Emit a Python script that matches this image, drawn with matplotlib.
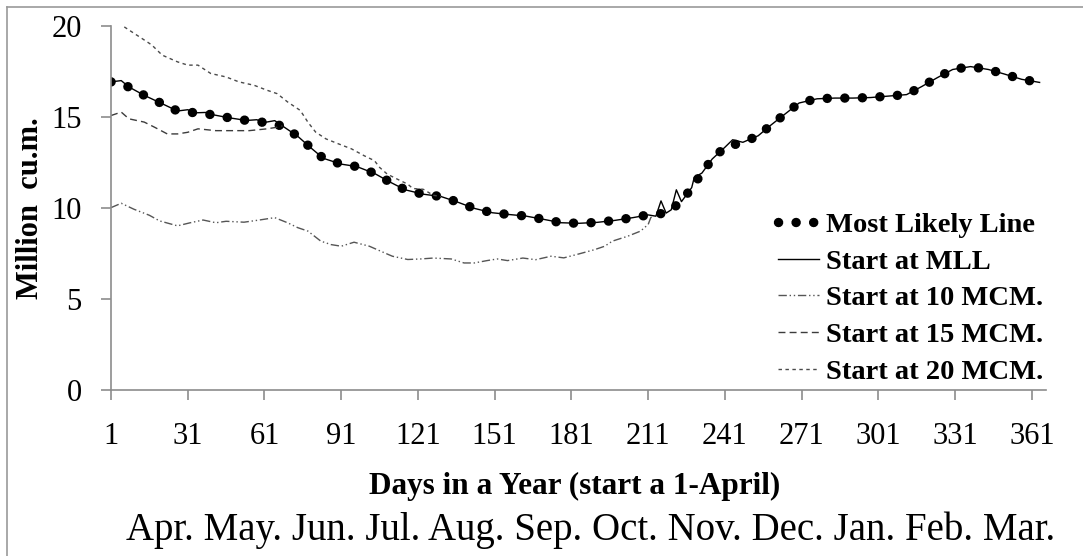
import matplotlib
matplotlib.use("Agg")
import matplotlib.pyplot as plt
from matplotlib.lines import Line2D

plt.rcParams['font.family'] = ['Liberation Serif', 'DejaVu Serif']

# Most likely storage line (daily simulation, read at weekly-ish steps)
mll_day = [1, 8, 14, 21, 27, 34, 41, 47, 54, 61, 68, 74, 79, 84, 91, 97, 104, 110,
           116, 123, 130, 136, 143, 150, 156, 163, 170, 177, 184, 191, 198, 205,
           211, 218, 224, 228, 232, 236, 241, 248, 254, 259, 265, 270, 277, 284,
           291, 298, 305, 312, 318, 324, 330, 337, 344, 350, 357, 364]
mll_val = [16.93, 16.65, 16.19, 15.73, 15.33, 15.23, 15.12, 14.96, 14.81, 14.70,
           14.51, 13.94, 13.32, 12.73, 12.41, 12.28, 11.90, 11.43, 11.00, 10.76,
           10.63, 10.35, 9.98, 9.74, 9.65, 9.56, 9.38, 9.19, 9.16, 9.21, 9.32,
           9.47, 9.62, 9.72, 10.35, 11.12, 11.92, 12.69, 13.34, 13.61, 13.97,
           14.56, 15.22, 15.77, 16.00, 16.04, 16.04, 16.07, 16.15, 16.23, 16.68,
           17.16, 17.61, 17.77, 17.61, 17.37, 17.07, 16.90]

# run started at the MLL level
mll_run_day = [1, 5, 8, 14, 21, 27, 31, 34, 38, 41, 47, 54, 58, 61, 65, 68, 74, 79,
               84, 91, 97, 104, 110, 116, 123, 130, 136, 143, 150, 156, 163, 170,
               177, 184, 191, 198, 205, 211, 214, 216, 218, 220, 222, 224, 228,
               229, 232, 236, 241, 244, 248, 254, 259, 265, 270, 277, 284, 291,
               298, 305, 312, 318, 324, 330, 337, 344, 350, 357, 364]
mll_run_val = [16.93, 17.00, 16.65, 16.19, 15.73, 15.33, 15.40, 15.23, 15.25,
               15.12, 14.96, 14.81, 14.85, 14.70, 14.80, 14.51, 13.94, 13.32,
               12.73, 12.41, 12.28, 11.90, 11.43, 11.00, 10.76, 10.63, 10.35,
               9.98, 9.74, 9.65, 9.56, 9.38, 9.19, 9.16, 9.21, 9.32, 9.47, 9.62,
               9.55, 10.39, 9.72, 9.90, 11.00, 10.35, 11.12, 11.68, 11.92, 12.69,
               13.34, 13.75, 13.61, 13.97, 14.56, 15.22, 15.77, 16.00, 16.04,
               16.04, 16.07, 16.15, 16.23, 16.68, 17.16, 17.61, 17.77, 17.61,
               17.37, 17.07, 16.90]

# runs started at 10, 15 and 20 MCM (drawn until they join the MLL)
s10_day = [1, 5, 10, 16, 20, 27, 32, 37, 42, 46, 53, 59, 65, 70, 74, 78, 83, 87,
           91, 96, 102, 108, 111, 117, 122, 127, 134, 139, 143, 148, 152, 156,
           162, 167, 173, 178, 184, 190, 194, 197, 203, 208, 211, 212, 213]
s10_val = [10.02, 10.26, 9.93, 9.60, 9.29, 9.02, 9.19, 9.34, 9.19, 9.27, 9.22,
           9.34, 9.47, 9.19, 8.92, 8.73, 8.18, 7.99, 7.90, 8.12, 7.90, 7.53,
           7.35, 7.17, 7.20, 7.25, 7.20, 6.98, 6.98, 7.11, 7.20, 7.11, 7.25,
           7.16, 7.35, 7.26, 7.48, 7.71, 7.90, 8.18, 8.45, 8.73, 9.10, 9.47, 9.59]

s15_day = [1, 5, 8, 14, 18, 23, 27, 31, 35, 42, 49, 55, 62, 66, 68]
s15_val = [15.08, 15.27, 14.90, 14.72, 14.44, 14.07, 14.07, 14.16, 14.35, 14.25,
           14.25, 14.25, 14.35, 14.44, 14.51]

s20_day = [1, 5, 9, 15, 17, 21, 27, 31, 35, 40, 46, 51, 57, 62, 66, 70, 75, 78,
           81, 85, 90, 95, 100, 104, 106, 109, 113, 117, 119, 123, 127, 130]
s20_val = [20.06, 20.06, 19.69, 19.14, 18.95, 18.40, 18.03, 17.85, 17.85, 17.39,
           17.20, 16.93, 16.74, 16.47, 16.28, 15.83, 15.36, 14.71, 14.17, 13.80,
           13.52, 13.25, 12.87, 12.60, 12.23, 11.86, 11.58, 11.31, 11.07, 11.03,
           10.70, 10.63]

day_ticks = list(range(1, 362, 30))
months = ["Apr.", "May.", "Jun.", "Jul.", "Aug.", "Sep.", "Oct.", "Nov.", "Dec.",
          "Jan.", "Feb.", "Mar."]

fig = plt.figure(figsize=(10.83, 5.56), dpi=100)
ax = fig.add_axes([111/1083, 1 - 390/556, (1046 - 111)/1083, (390 - 26)/556])

# round-dot line: zero-length dashes with round caps
ax.plot(mll_day, mll_val, color='black', lw=6.8, linestyle=(0, (0.01, 1.85)),
        dash_capstyle='round', solid_capstyle='round', label='Most Likely Line')
ax.plot(mll_run_day, mll_run_val, color='black', lw=1.0, label='Start at MLL')
ax.plot(s10_day, s10_val, color='#555555', lw=1.0,
        linestyle=(0, (6, 2, 1, 2, 1, 2)), label='Start at 10 MCM.')
ax.plot(s15_day, s15_val, color='#3c3c3c', lw=1.0,
        linestyle=(0, (5, 3)), label='Start at 15 MCM.')
ax.plot(s20_day, s20_val, color='#4a4a4a', lw=1.0,
        linestyle=(0, (2.5, 2.5)), label='Start at 20 MCM.')

ax.set_xlim(1, 366.5)
ax.set_ylim(0, 20)
ax.set_xticks(day_ticks)
ax.set_yticks([0, 5, 10, 15, 20])
for s in ['top', 'right']:
    ax.spines[s].set_visible(False)
for s in ['left', 'bottom']:
    ax.spines[s].set_color('#8c8c8c')
    ax.spines[s].set_linewidth(1.2)
ax.tick_params(axis='both', direction='out', length=7, width=1.2,
               color='#8c8c8c', labelsize=22)
ax.tick_params(axis='y', pad=14)
ax.tick_params(axis='x', pad=16)

ax.set_ylabel("Million  cu.m.", fontsize=22, fontweight='bold')
ax.yaxis.set_label_coords(-0.071, 0.5)
ax.set_xlabel("Days in a Year (start a 1-April)", fontsize=22.5,
              fontweight='bold')
ax.xaxis.set_label_coords((575 - 111)/935, -(472 - 390)/364)

fig.text(591/1083, 1 - 530/556, " ".join(months), fontsize=28,
         ha='center', va='center')

leg = ax.legend(loc='upper left', bbox_to_anchor=(778/1083, 1 - 212/556),
                bbox_transform=fig.transFigure, frameon=False,
                prop={'size': 20.5, 'weight': 'bold'}, handlelength=1.45,
                handletextpad=0.25, labelspacing=0.38, borderpad=0,
                borderaxespad=0)

# frame lines of the page
fig.add_artist(Line2D([7/1083, 7/1083], [0, 1 - 7/556], color='#9a9a9a',
                      lw=1.2, transform=fig.transFigure))
fig.add_artist(Line2D([7/1083, 1], [1 - 7/556, 1 - 7/556], color='#9a9a9a',
                      lw=1.2, transform=fig.transFigure))

fig.savefig("out.png", dpi=100)
